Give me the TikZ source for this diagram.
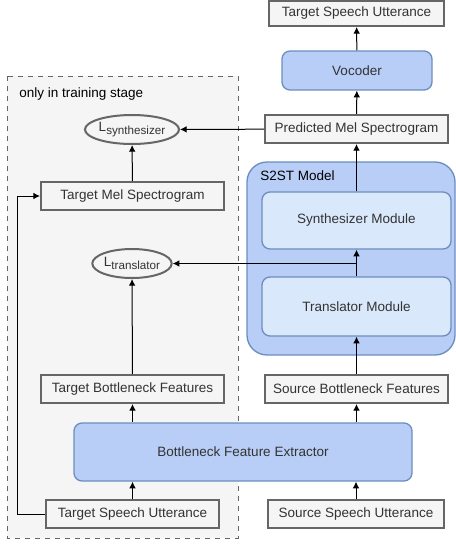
\documentclass[tikz,border=0pt]{standalone}
\usepackage{fontspec}
\setmainfont{Liberation Sans}
\usetikzlibrary{shapes.geometric,arrows.meta}

\definecolor{boxfill}{HTML}{F5F5F5}
\definecolor{boxline}{HTML}{666666}
\definecolor{txt}{HTML}{333333}
\definecolor{bluefill}{HTML}{B8CEF6}
\definecolor{lightblue}{HTML}{DAE8FC}
\definecolor{blueline}{HTML}{6C8EBF}

\tikzset{
  graybox/.style={draw=boxline, fill=boxfill, line width=1.2pt, text=txt, inner sep=0pt},
  bluebox/.style={draw=blueline, fill=bluefill, line width=0.8pt, rounded corners=4.8pt, text=txt, inner sep=0pt},
  modbox/.style={draw=blueline, fill=lightblue, line width=0.8pt, rounded corners=4.8pt, text=txt, inner sep=0pt},
  lossnode/.style={ellipse, draw=boxline, fill=boxfill, line width=1.2pt, text=txt, inner sep=0pt,
    minimum width=46.2pt, minimum height=17.4pt},
  arr/.style={-{Latex[length=4pt,width=4pt]}, line width=0.6pt}
}
\newcommand{\lossname}[1]{L\raisebox{-2pt}{\fontsize{7}{8}\selectfont #1}}

\begin{document}
\begin{tikzpicture}[x=0.6pt, y=-0.6pt, font=\fontsize{8.1}{9.6}\selectfont]
\useasboundingbox (0,0) rectangle (456,546);

% training-only region
\draw[dashed, draw=boxline, fill=boxfill, line width=0.6pt] (7,76) rectangle (238,538);
\node[anchor=west, text=black] (trainlabel) at (13.5,94) {only in training stage};

% S2ST model
\draw[draw=blueline, fill=bluefill, line width=0.8pt, rounded corners=12pt] (247,162) rectangle (455,355);
\node[anchor=west, text=black] (s2stlabel) at (254.5,176) {S2ST Model};

% right column
\node[graybox, minimum width=105pt, minimum height=15pt] (tsutop) at (356.5,13.5) {Target Speech Utterance};
\node[bluebox, minimum width=90pt, minimum height=23.4pt] (voc) at (357,70.5) {Vocoder};
\node[graybox, minimum width=109.8pt, minimum height=16.8pt] (pms) at (356.5,129) {Predicted Mel Spectrogram};
\node[modbox, minimum width=113.4pt, minimum height=34.2pt] (syn) at (356.5,220.5) {Synthesizer Module};
\node[modbox, minimum width=113.4pt, minimum height=35.4pt] (trn) at (356.5,306.5) {Translator Module};
\node[graybox, minimum width=109.8pt, minimum height=16.8pt] (sbf) at (356.5,389) {Source Bottleneck Features};
\node[graybox, minimum width=105.6pt, minimum height=16.8pt] (ssu) at (356,514) {Source Speech Utterance};

% left column
\node[lossnode] (lsyn) at (132,129.5) {\lossname{synthesizer}};
\node[graybox, minimum width=109.8pt, minimum height=16.8pt] (tms) at (132.5,196) {Target Mel Spectrogram};
\node[lossnode] (ltr) at (132,263.5) {\lossname{translator}};
\node[graybox, minimum width=109.8pt, minimum height=16.8pt] (tbf) at (132.5,389) {Target Bottleneck Features};
\node[graybox, minimum width=103.8pt, minimum height=16.8pt] (tsu) at (132.5,514) {Target Speech Utterance};

\node[bluebox, minimum width=202.8pt, minimum height=34.8pt] (bfe) at (243,452) {Bottleneck Feature Extractor};

% connectors
\draw[arr] (tsu.north) -- (tsu.north |- bfe.south);
\draw[arr] (ssu.north) -- (ssu.north |- bfe.south);
\draw[arr] (tbf.north |- bfe.north) -- (tbf.south);
\draw[arr] (sbf.north |- bfe.north) -- (sbf.south);
\draw[arr] (sbf) -- (trn);
\draw[arr] (trn) -- (syn);
\coordinate (junc) at (trn.north |- ltr);
\draw[arr] (junc) -- (ltr);
\draw[arr] (syn) -- (pms);
\draw[arr] (pms) -- (voc);
\draw[arr] (voc) -- (tsutop);
\draw[arr] (pms) -- (lsyn);
\draw[arr] (tms) -- (lsyn);
\draw[arr] (tbf) -- (ltr);
\draw[arr] (tsu.west) -| (17,196) -- (tms.west);
\end{tikzpicture}
\end{document}
